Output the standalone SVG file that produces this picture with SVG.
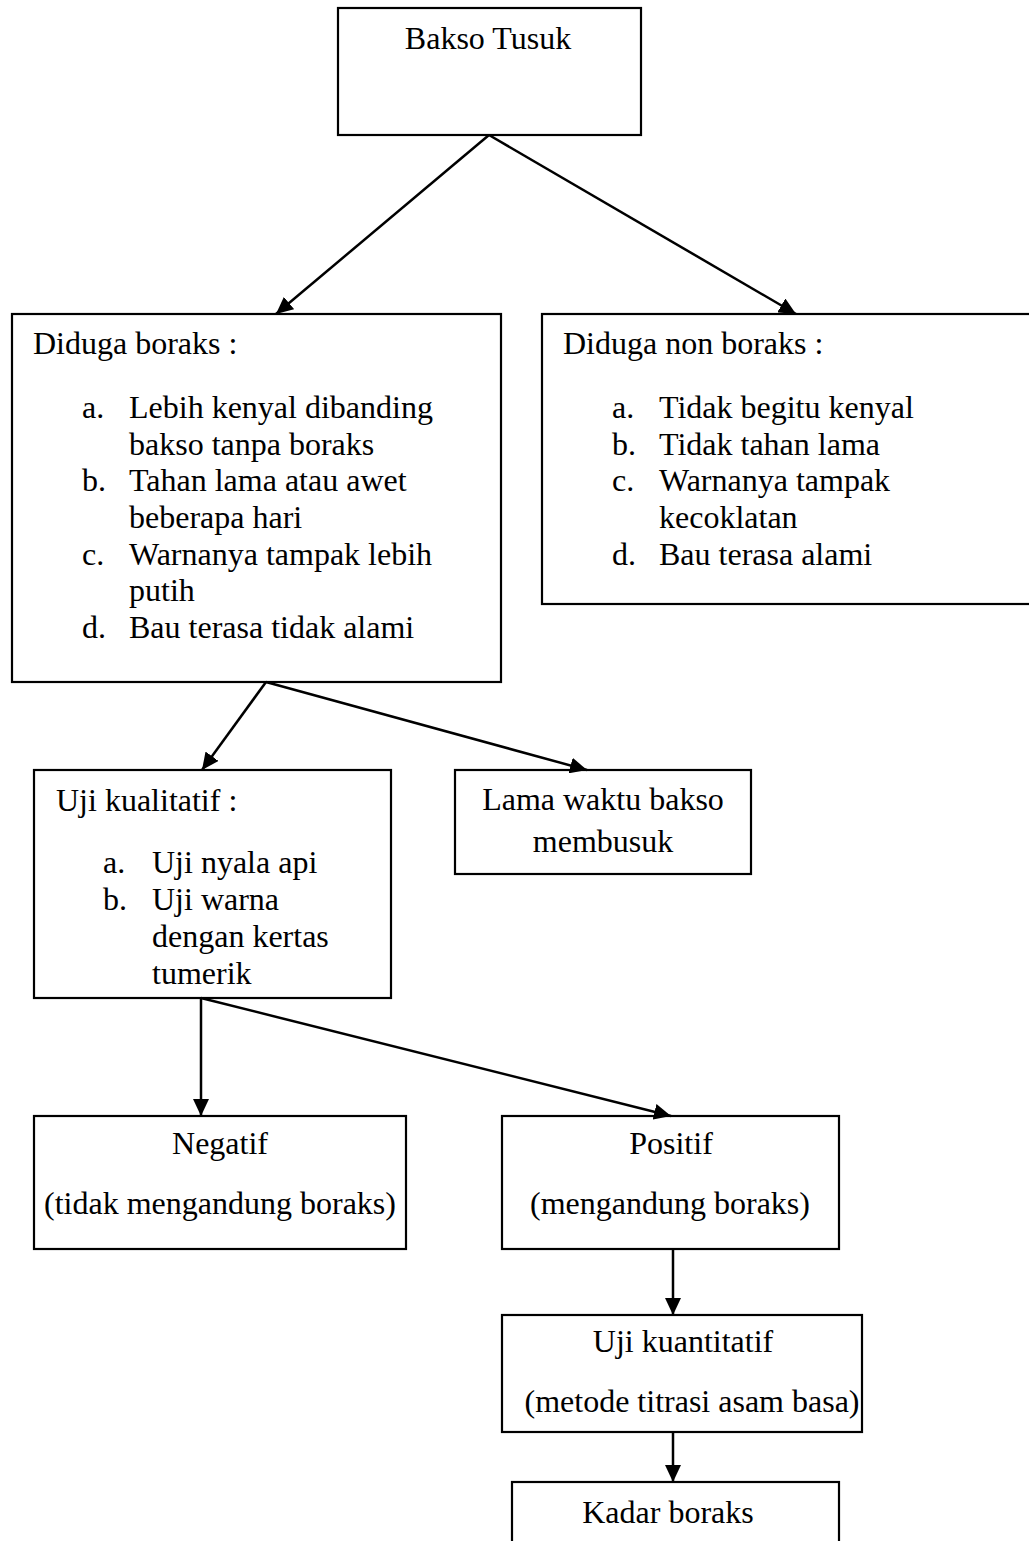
<svg xmlns="http://www.w3.org/2000/svg" width="1029" height="1541" viewBox="0 0 1029 1541">
<style>
rect.box{fill:#fff;stroke:#000;stroke-width:2.2}
text{font-family:"Liberation Serif","Times New Roman",serif;font-size:32px;fill:#000}
.c{text-anchor:middle}
.conn line{stroke:#000;stroke-width:2.5;marker-end:url(#ah)}
</style>
<defs>
<marker id="ah" markerUnits="userSpaceOnUse" markerWidth="17" markerHeight="16" refX="17" refY="8" orient="auto" viewBox="0 0 17 16">
<path d="M0,0 L17,8 L0,16 z" fill="#000"/>
</marker>
</defs>
<rect width="1029" height="1541" fill="#fff"/>
<g id="n-bakso">
<rect class="box" x="338" y="8" width="303" height="127"/>
<text class="c" x="488" y="49">Bakso Tusuk</text>
</g>
<g id="n-boraks">
<rect class="box" x="12" y="314" width="489" height="368"/>
<text x="33" y="354">Diduga boraks :</text>
<text x="82" y="418">a.</text><text x="129" y="418">Lebih kenyal dibanding</text>
<text x="129" y="455">bakso tanpa boraks</text>
<text x="82" y="491">b.</text><text x="129" y="491">Tahan lama atau awet</text>
<text x="129" y="528">beberapa hari</text>
<text x="82" y="565">c.</text><text x="129" y="565">Warnanya tampak lebih</text>
<text x="129" y="601">putih</text>
<text x="82" y="638">d.</text><text x="129" y="638">Bau terasa tidak alami</text>
</g>
<g id="n-nonboraks">
<rect class="box" x="542" y="314" width="500" height="290"/>
<text x="563" y="354">Diduga non boraks :</text>
<text x="612" y="418">a.</text><text x="659" y="418">Tidak begitu kenyal</text>
<text x="612" y="455">b.</text><text x="659" y="455">Tidak tahan lama</text>
<text x="612" y="491">c.</text><text x="659" y="491">Warnanya tampak</text>
<text x="659" y="528">kecoklatan</text>
<text x="612" y="565">d.</text><text x="659" y="565">Bau terasa alami</text>
</g>
<g id="n-kualitatif">
<rect class="box" x="34" y="770" width="357" height="228"/>
<text x="56" y="811">Uji kualitatif :</text>
<text x="103" y="873">a.</text><text x="152" y="873">Uji nyala api</text>
<text x="103" y="910">b.</text><text x="152" y="910">Uji warna</text>
<text x="152" y="947">dengan kertas</text>
<text x="152" y="984">tumerik</text>
</g>
<g id="n-lama">
<rect class="box" x="455" y="770" width="296" height="104"/>
<text class="c" x="603" y="810">Lama waktu bakso</text>
<text class="c" x="603" y="852">membusuk</text>
</g>
<g id="n-negatif">
<rect class="box" x="34" y="1116" width="372" height="133"/>
<text class="c" x="220" y="1154">Negatif</text>
<text class="c" x="220" y="1214">(tidak mengandung boraks)</text>
</g>
<g id="n-positif">
<rect class="box" x="502" y="1116" width="337" height="133"/>
<text class="c" x="671" y="1154">Positif</text>
<text class="c" x="670" y="1214">(mengandung boraks)</text>
</g>
<g id="n-kuantitatif">
<rect class="box" x="502" y="1315" width="360" height="117"/>
<text class="c" x="683" y="1352">Uji kuantitatif</text>
<text class="c" x="692" y="1412">(metode titrasi asam basa)</text>
</g>
<g id="n-kadar">
<rect class="box" x="512" y="1482" width="327" height="80"/>
<text class="c" x="668" y="1523">Kadar boraks</text>
</g>
<g id="connectors" class="conn">
<line x1="489" y1="135" x2="276" y2="314"/>
<line x1="489" y1="135" x2="796" y2="314"/>
<line x1="266" y1="682" x2="202" y2="770"/>
<line x1="266" y1="682" x2="587" y2="770"/>
<line x1="201" y1="998" x2="201" y2="1116"/>
<line x1="201" y1="998" x2="671" y2="1116"/>
<line x1="673" y1="1249" x2="673" y2="1315"/>
<line x1="673" y1="1432" x2="673" y2="1482"/>
</g>
</svg>
